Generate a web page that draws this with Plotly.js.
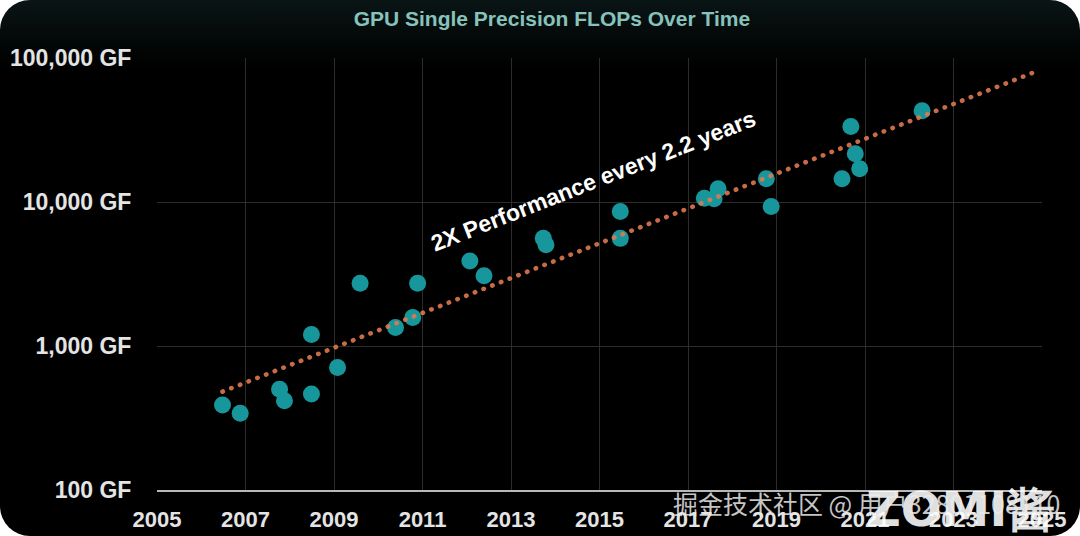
<!DOCTYPE html>
<html>
<head>
<meta charset="utf-8">
<script src="https://cdn.plot.ly/plotly-3.0.1.min.js"></script>
<style>
  html, body { margin:0; padding:0; background:#ffffff; width:1080px; height:536px; overflow:hidden; }
  #card { position:absolute; left:0; top:0; width:1080px; height:536px; border-radius:30px; overflow:hidden;
          background: linear-gradient(to bottom, #0a1515 0px, #030606 45px, #000000 70px, #000000 100%); }
  #chart { width:1080px; height:536px; }
  .js-line { stroke-linecap: round !important; }
</style>
</head>
<body>
<div id="card"><div id="chart"></div></div>
<script>
// GPU single-precision GFLOPS, release year
const years = [2006.48, 2006.88, 2007.77, 2007.88, 2008.49, 2008.49, 2009.08, 2009.59,
               2010.39, 2010.78, 2010.89, 2012.07, 2012.39, 2013.73, 2013.79, 2015.47,
               2015.47, 2017.37, 2017.59, 2017.68, 2018.77, 2018.88, 2020.48, 2020.68,
               2020.78, 2020.88, 2022.29];
const gflops = [390, 341, 501, 416, 465, 1200, 708, 2730,
                1343, 1575, 2730, 3900, 3070, 5590, 5040, 8590,
                5590, 10600, 10530, 12350, 14500, 9300, 14500, 33500,
                21600, 17000, 43000];

// Trend line ("2X Performance every 2.2 years") end points
const trendYears = [2006.48, 2024.84];
const trendGflops = [482, 80000];

const yTickVals = [100, 1000, 10000, 100000];
const yTickText = ['100 GF', '1,000 GF', '10,000 GF', '100,000 GF'];

const titleText = 'GPU Single Precision FLOPs Over Time';
const trendLabel = '2X Performance every 2.2 years';
const watermark = '掘金技术社区 @ 用户32801108110';
const logoText = 'ZOMI酱';

const data = [
  { x: years, y: gflops, type: 'scatter', mode: 'markers',
    marker: { size: 17, color: '#17979b', line: { width: 0 } }, hoverinfo: 'x+y' },
  { x: trendYears, y: trendGflops, type: 'scatter', mode: 'lines',
    line: { color: 'rgba(222,120,80,0.9)', width: 4.6, dash: '0.4px,8.95px' }, hoverinfo: 'skip' }
];

const layout = {
  width: 1080, height: 536,
  paper_bgcolor: 'rgba(0,0,0,0)', plot_bgcolor: 'rgba(0,0,0,0)',
  margin: { l: 157, r: 38, t: 58, b: 46, pad: 0 },
  showlegend: false,
  title: { text: titleText, x: 0.511, xanchor: 'center', y: 0.965, yanchor: 'middle', yref: 'container',
           font: { family: 'Liberation Sans, Arial, sans-serif', size: 21, color: '#86c3bd', weight: 700 } },
  xaxis: {
    range: [2005, 2025], tick0: 2005, dtick: 2, showgrid: true, gridcolor: '#2c2c2c', gridwidth: 1,
    zeroline: false, showline: true, linecolor: '#b8b8b8', linewidth: 2,
    ticks: 'outside', ticklen: 9, tickcolor: 'rgba(0,0,0,0)',
    tickfont: { family: 'Liberation Sans, Arial, sans-serif', size: 22, color: '#e4e4e4', weight: 700 }
  },
  yaxis: {
    type: 'log', range: [2, 5], tickvals: yTickVals, ticktext: yTickText,
    showgrid: true, gridcolor: '#2c2c2c', gridwidth: 1, zeroline: false, showline: false,
    ticks: 'outside', ticklen: 20, tickcolor: 'rgba(0,0,0,0)',
    tickfont: { family: 'Liberation Sans, Arial, sans-serif', size: 23, color: '#e4e4e4', weight: 700 }
  },
  annotations: [
    { text: trendLabel, xref: 'paper', yref: 'paper', x: (593 - 157) / 885, y: (490 - 181) / 432,
      xanchor: 'center', yanchor: 'middle', showarrow: false, textangle: -21.5,
      font: { family: 'Liberation Sans, Arial, sans-serif', size: 23, color: '#ffffff', weight: 700 } },
    { text: logoText, xref: 'paper', yref: 'paper', x: (960 - 157) / 885, y: (490 - 479) / 432,
      xanchor: 'center', yanchor: 'top', showarrow: false,
      font: { family: 'DejaVu Sans, sans-serif', size: 48, color: 'rgba(255,255,255,0.88)', weight: 700 } },
    { text: watermark, xref: 'paper', yref: 'paper', x: (1062 - 157) / 885, y: (490 - 503) / 432,
      xanchor: 'right', yanchor: 'middle', showarrow: false,
      font: { family: 'Noto Sans CJK SC, sans-serif', size: 25, color: 'rgba(235,235,235,0.85)' } }
  ]
};

Plotly.newPlot('chart', data, layout, { staticPlot: true, displayModeBar: false });
</script>
</body>
</html>
